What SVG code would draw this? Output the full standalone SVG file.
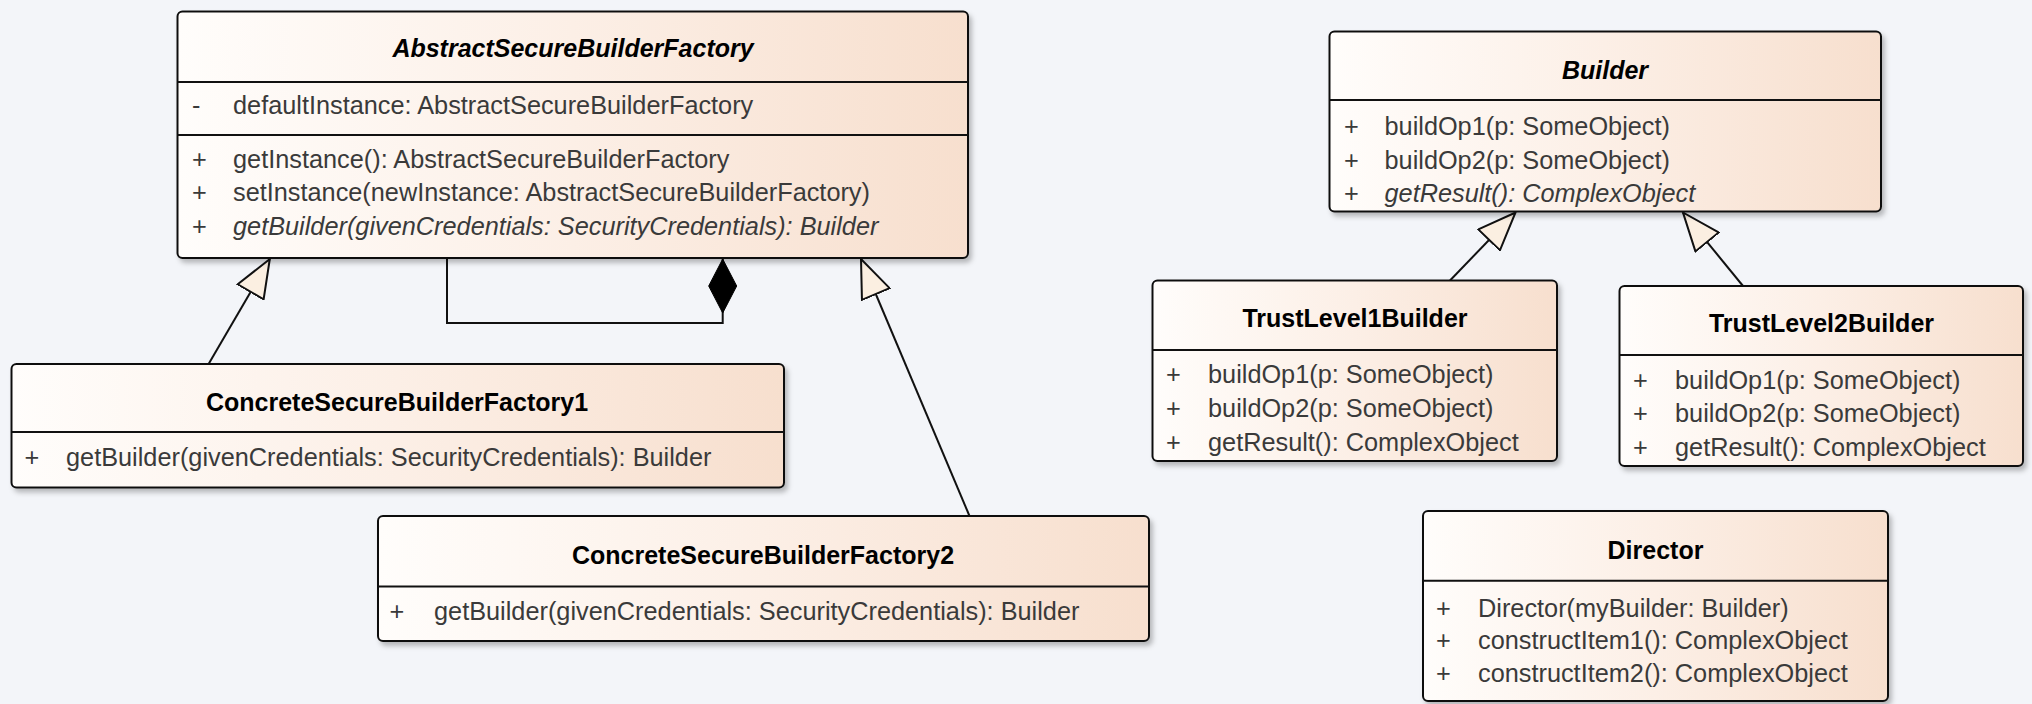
<svg xmlns="http://www.w3.org/2000/svg" width="2032" height="704" viewBox="0 0 2032 704">
  <defs>
    <linearGradient id="classFill" x1="0" y1="0" x2="1" y2="0">
      <stop offset="0" stop-color="#fffdfb"/>
      <stop offset="0.5" stop-color="#fcefe6"/>
      <stop offset="1" stop-color="#f7dfce"/>
    </linearGradient>
    <filter id="shadow" x="-5%" y="-5%" width="115%" height="125%">
      <feDropShadow dx="3" dy="4" stdDeviation="2.5" flood-color="#000" flood-opacity="0.25"/>
    </filter>
    <!-- hollow triangle for generalization -->
    <marker id="inherit" viewBox="0 0 40 32" refX="39" refY="16" markerWidth="40" markerHeight="32" markerUnits="userSpaceOnUse" orient="auto">
      <path d="M1,1 L39,16 L1,31 Z" fill="#fbefe1" stroke="#111" stroke-width="2" stroke-linejoin="miter"/>
    </marker>
    <!-- filled diamond for composition -->
    <marker id="compose" viewBox="0 0 56 30" refX="55" refY="15" markerWidth="56" markerHeight="30" markerUnits="userSpaceOnUse" orient="auto">
      <path d="M1,15 L28,1 L55,15 L28,29 Z" fill="#000" stroke="#000" stroke-width="1"/>
    </marker>
  </defs>
  <style>
    .box { fill: url(#classFill); stroke: #111; stroke-width: 2; filter: url(#shadow); }
    .sep { stroke: #111; stroke-width: 2; }
    .title { font-family: "Liberation Sans", Arial, sans-serif; font-size: 25px; font-weight: bold; fill: #000; text-anchor: middle; }
    .abstract { font-style: italic; }
    .mem { font-family: "Liberation Sans", Arial, sans-serif; font-size: 25.3px; fill: #3a3a3a; }
    .it { font-style: italic; }
    .conn { fill: none; stroke: #111; stroke-width: 2; }
  </style>

  <rect width="2032" height="704" fill="#f3f5f9"/>

  <!-- connectors -->
  <g id="connectors">
    <path class="conn" d="M208.6,364 L269.8,259" marker-end="url(#inherit)"/>
    <path class="conn" d="M969.5,516 L861,259" marker-end="url(#inherit)"/>
    <path class="conn" d="M447,258 L447,323 L722.7,323 L722.7,259" marker-end="url(#compose)"/>
    <path class="conn" d="M1450,280.5 L1515.5,212.5" marker-end="url(#inherit)"/>
    <path class="conn" d="M1743,286 L1683,212.5" marker-end="url(#inherit)"/>
  </g>

  <!-- AbstractSecureBuilderFactory -->
  <g id="AbstractSecureBuilderFactory">
    <rect class="box" x="177.5" y="11.5" width="790.5" height="246.5" rx="5"/>
    <line class="sep" x1="177.5" y1="82" x2="968" y2="82"/>
    <line class="sep" x1="177.5" y1="135" x2="968" y2="135"/>
    <text class="title abstract" x="573" y="57">AbstractSecureBuilderFactory</text>
    <text class="mem" x="192" y="114">-</text>
    <text class="mem" x="233" y="114">defaultInstance: AbstractSecureBuilderFactory</text>
    <text class="mem" x="192" y="167.5">+</text>
    <text class="mem" x="233" y="167.5">getInstance(): AbstractSecureBuilderFactory</text>
    <text class="mem" x="192" y="201">+</text>
    <text class="mem" x="233" y="201">setInstance(newInstance: AbstractSecureBuilderFactory)</text>
    <text class="mem" x="192" y="234.5">+</text>
    <text class="mem it" x="233" y="234.5">getBuilder(givenCredentials: SecurityCredentials): Builder</text>
  </g>

  <!-- ConcreteSecureBuilderFactory1 -->
  <g id="ConcreteSecureBuilderFactory1">
    <rect class="box" x="11.5" y="364" width="772.5" height="123.5" rx="5"/>
    <line class="sep" x1="11.5" y1="432" x2="784" y2="432"/>
    <text class="title" x="397" y="410.5">ConcreteSecureBuilderFactory1</text>
    <text class="mem" x="24.5" y="466">+</text>
    <text class="mem" x="66" y="466">getBuilder(givenCredentials: SecurityCredentials): Builder</text>
  </g>

  <!-- ConcreteSecureBuilderFactory2 -->
  <g id="ConcreteSecureBuilderFactory2">
    <rect class="box" x="378" y="516" width="771" height="125" rx="5"/>
    <line class="sep" x1="378" y1="586.5" x2="1149" y2="586.5"/>
    <text class="title" x="763" y="564">ConcreteSecureBuilderFactory2</text>
    <text class="mem" x="389.5" y="620">+</text>
    <text class="mem" x="434" y="620">getBuilder(givenCredentials: SecurityCredentials): Builder</text>
  </g>

  <!-- Builder -->
  <g id="Builder">
    <rect class="box" x="1329.5" y="31.5" width="551.5" height="180" rx="5"/>
    <line class="sep" x1="1329.5" y1="100" x2="1881" y2="100"/>
    <text class="title abstract" x="1605" y="79">Builder</text>
    <text class="mem" x="1344" y="135">+</text>
    <text class="mem" x="1384.5" y="135">buildOp1(p: SomeObject)</text>
    <text class="mem" x="1344" y="168.5">+</text>
    <text class="mem" x="1384.5" y="168.5">buildOp2(p: SomeObject)</text>
    <text class="mem" x="1344" y="201.5">+</text>
    <text class="mem it" x="1384.5" y="201.5">getResult(): ComplexObject</text>
  </g>

  <!-- TrustLevel1Builder -->
  <g id="TrustLevel1Builder">
    <rect class="box" x="1152.5" y="280.5" width="404.5" height="180.5" rx="5"/>
    <line class="sep" x1="1152.5" y1="350" x2="1557" y2="350"/>
    <text class="title" x="1355" y="327">TrustLevel1Builder</text>
    <text class="mem" x="1166" y="383">+</text>
    <text class="mem" x="1208" y="383">buildOp1(p: SomeObject)</text>
    <text class="mem" x="1166" y="417">+</text>
    <text class="mem" x="1208" y="417">buildOp2(p: SomeObject)</text>
    <text class="mem" x="1166" y="450.5">+</text>
    <text class="mem" x="1208" y="450.5">getResult(): ComplexObject</text>
  </g>

  <!-- TrustLevel2Builder -->
  <g id="TrustLevel2Builder">
    <rect class="box" x="1619.5" y="286" width="403.5" height="180" rx="5"/>
    <line class="sep" x1="1619.5" y1="355" x2="2023" y2="355"/>
    <text class="title" x="1821.5" y="332">TrustLevel2Builder</text>
    <text class="mem" x="1633" y="388.5">+</text>
    <text class="mem" x="1675" y="388.5">buildOp1(p: SomeObject)</text>
    <text class="mem" x="1633" y="422">+</text>
    <text class="mem" x="1675" y="422">buildOp2(p: SomeObject)</text>
    <text class="mem" x="1633" y="455.5">+</text>
    <text class="mem" x="1675" y="455.5">getResult(): ComplexObject</text>
  </g>

  <!-- Director -->
  <g id="Director">
    <rect class="box" x="1423" y="511" width="465" height="190" rx="5"/>
    <line class="sep" x1="1423" y1="580.7" x2="1888" y2="580.7"/>
    <text class="title" x="1655.5" y="558.5">Director</text>
    <text class="mem" x="1436" y="616.7">+</text>
    <text class="mem" x="1478" y="616.7">Director(myBuilder: Builder)</text>
    <text class="mem" x="1436" y="649">+</text>
    <text class="mem" x="1478" y="649">constructItem1(): ComplexObject</text>
    <text class="mem" x="1436" y="681.5">+</text>
    <text class="mem" x="1478" y="681.5">constructItem2(): ComplexObject</text>
  </g>
</svg>
